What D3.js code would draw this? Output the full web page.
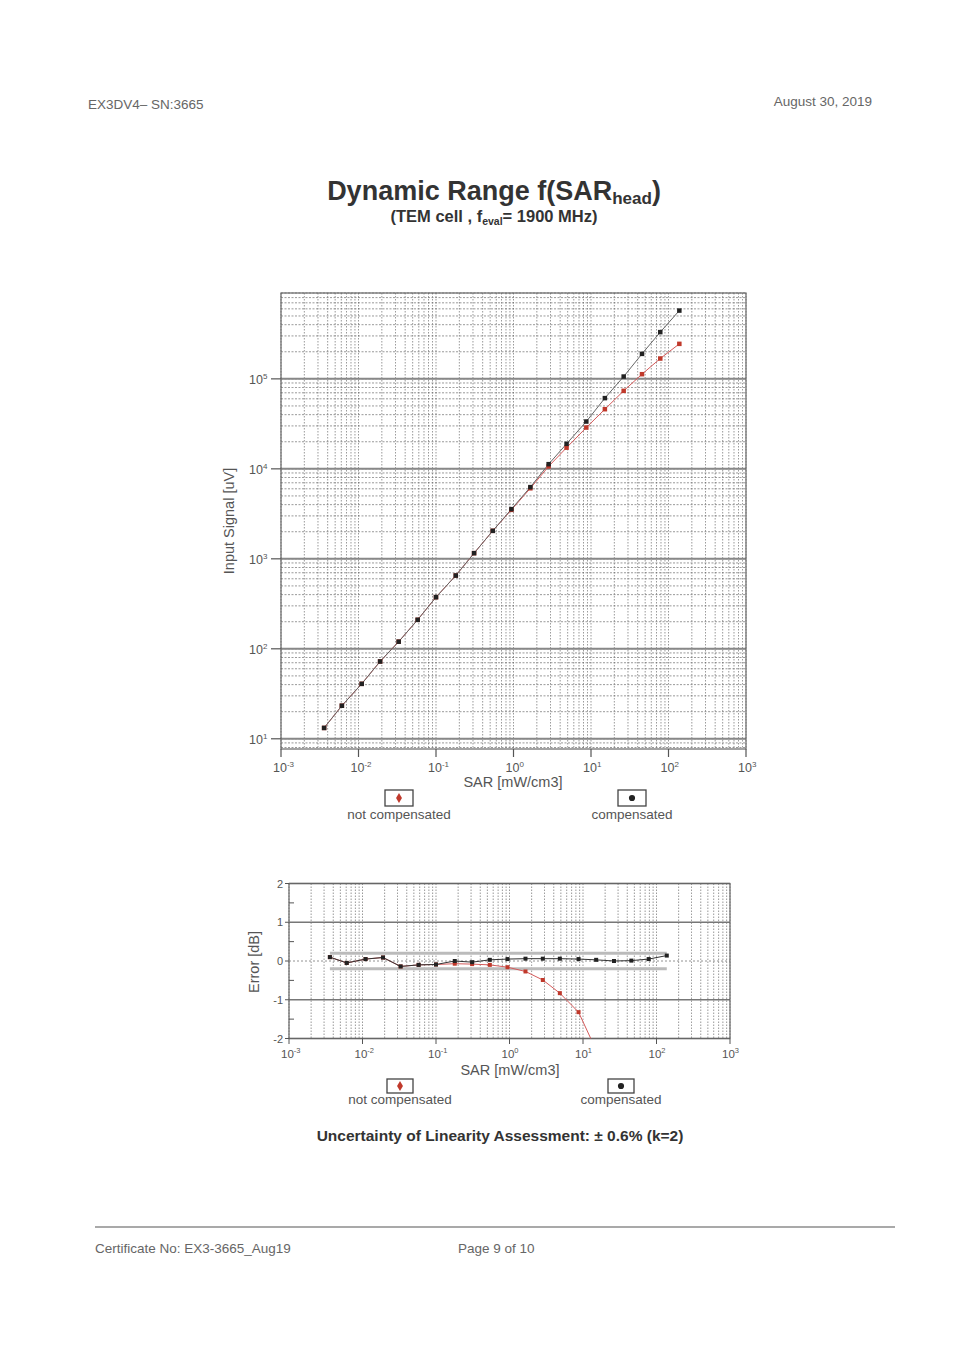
<!DOCTYPE html>
<html>
<head>
<meta charset="utf-8">
<script src="https://cdn.jsdelivr.net/npm/d3@7"></script>
<style>
  body { margin: 0; background: #fff; }
  svg { display: block; font-family: "Liberation Sans", Arial, sans-serif; }
</style>
</head>
<body>
<svg id="page" width="955" height="1354"></svg>
<script>
    "use strict";

    // values
    var sar = [0.0036, 0.0061, 0.011, 0.019, 0.033, 0.058, 0.10, 0.18, 0.31, 0.54,
        0.94, 1.65, 2.84, 4.84, 8.7, 15.1, 26.4, 45.5, 78.3, 138];
    var signalComp = [13.2, 23.3, 40.8, 72.3, 120, 210, 375, 652, 1156, 2047,
        3565, 6264, 11270, 18970, 33570, 61100, 106100, 189600, 330600, 574000];
    var signalNotComp = [13.2, 23.3, 40.8, 72.3, 120, 210, 375, 652, 1156, 2047,
        3500, 6080, 10650, 17200, 28770, 46000, 73600, 112700, 168300, 245000];
    var errComp = [0.10, -0.05, 0.05, 0.09, -0.14, -0.10, -0.09, 0.00, -0.03, 0.03,
        0.05, 0.06, 0.06, 0.06, 0.05, 0.03, 0.00, 0.01, 0.05, 0.14];
    var errNotComp = [0.10, -0.05, 0.05, 0.09, -0.14, -0.10, -0.09, -0.07, -0.08, -0.10,
        -0.16, -0.27, -0.49, -0.83, -1.32, -2.30];
    var xDecades = [1e-3, 1e-2, 1e-1, 1e0, 1e1, 1e2, 1e3];
    var xTickLabels = ["-3", "-2", "-1", "0", "1", "2", "3"];
    var yDecades = [1e1, 1e2, 1e3, 1e4, 1e5];
    var yTickLabels = ["1", "2", "3", "4", "5"];
    var errTicks = [-2, -1, 0, 1, 2];
    var errMinorTicks = [-1.5, -0.5, 0.5, 1.5];
    var errBand = [-0.2, 0.2];

    var svg = d3.select("#page");
    var textGray = "#555";

    // page header / footer
    svg.append("text").attr("x", 88).attr("y", 109).attr("font-size", 13.5).attr("fill", "#666")
        .text("EX3DV4– SN:3665");
    svg.append("text").attr("x", 872).attr("y", 106).attr("font-size", 13.5).attr("fill", "#666")
        .attr("text-anchor", "end").text("August 30, 2019");

    var title = svg.append("text").attr("x", 494).attr("y", 200).attr("text-anchor", "middle")
        .attr("font-size", 27).attr("font-weight", "bold").attr("fill", "#333");
    title.append("tspan").text("Dynamic Range f(SAR");
    title.append("tspan").attr("font-size", 17).attr("dy", 4).text("head");
    title.append("tspan").attr("dy", -4).text(")");

    var sub = svg.append("text").attr("x", 494).attr("y", 222).attr("text-anchor", "middle")
        .attr("font-size", 16.5).attr("font-weight", "bold").attr("fill", "#333");
    sub.append("tspan").text("(TEM cell , f");
    sub.append("tspan").attr("font-size", 10.5).attr("dy", 3).text("eval");
    sub.append("tspan").attr("dy", -3).text("= 1900 MHz)");

    svg.append("line").attr("x1", 95).attr("x2", 895).attr("y1", 1227).attr("y2", 1227)
        .attr("stroke", "#555").attr("stroke-width", 1.2);
    svg.append("text").attr("x", 95).attr("y", 1253).attr("font-size", 13.5).attr("fill", "#666")
        .text("Certificate No: EX3-3665_Aug19");
    svg.append("text").attr("x", 458).attr("y", 1253).attr("font-size", 13.5).attr("fill", "#666")
        .text("Page 9 of 10");

    var minorsOf = function (scale) {
        var d = scale.domain();
        return scale.ticks().filter(function (v) {
            return v >= d[0] && v <= d[1];
        });
    };

    var supLabel = function (sel, base, exp, size) {
        sel.append("tspan").text(base);
        sel.append("tspan").attr("font-size", size).attr("dy", -5).text(exp);
    };

    var drawLegend = function (g, lx, rx, yBox, yText, w, h) {
        var items = [
            {x: lx, label: "not compensated", color: "#c0392b", shape: d3.symbolDiamond},
            {x: rx, label: "compensated", color: "#222", shape: d3.symbolCircle}
        ];
        items.forEach(function (it) {
            g.append("rect").attr("x", it.x - w / 2).attr("y", yBox - h / 2).attr("width", w).attr("height", h)
                .attr("fill", "#fff").attr("stroke", "#444").attr("stroke-width", 1.3);
            g.append("path").attr("d", d3.symbol().type(it.shape).size(30)())
                .attr("transform", "translate(" + it.x + "," + yBox + ")").attr("fill", it.color);
            g.append("text").attr("x", it.x).attr("y", yText).attr("text-anchor", "middle")
                .attr("font-size", 13.5).attr("fill", textGray).text(it.label);
        });
    };

    // ---------- main chart: input signal vs SAR ----------
    var x = d3.scaleLog().domain([1e-3, 1e3]).range([281, 746]);
    var y = d3.scaleLog().domain([7.7, 9e5]).range([749, 293]);
    var main = svg.append("g");

    var xMinor = minorsOf(x);
    var yMinor = minorsOf(y);

    main.append("g").selectAll("line").data(xMinor).join("line")
        .attr("x1", function (d) { return x(d); }).attr("x2", function (d) { return x(d); })
        .attr("y1", y.range()[1]).attr("y2", y.range()[0])
        .attr("stroke", "#555").attr("stroke-width", 0.8).attr("stroke-dasharray", "1.5,1.5")
        .attr("opacity", 0.75);
    main.append("g").selectAll("line").data(yMinor).join("line")
        .attr("x1", x.range()[0]).attr("x2", x.range()[1])
        .attr("y1", function (d) { return y(d); }).attr("y2", function (d) { return y(d); })
        .attr("stroke", "#555").attr("stroke-width", 0.8).attr("stroke-dasharray", "2,1.5")
        .attr("opacity", 0.75);
    main.append("g").selectAll("line").data(yDecades).join("line")
        .attr("x1", x.range()[0]).attr("x2", x.range()[1])
        .attr("y1", function (d) { return y(d); }).attr("y2", function (d) { return y(d); })
        .attr("stroke", "#888").attr("stroke-width", 2);
    main.append("rect").attr("x", 281).attr("y", 293).attr("width", 465).attr("height", 456)
        .attr("fill", "none").attr("stroke", "#666").attr("stroke-width", 1.2);

    // y ticks
    var yAx = main.append("g");
    yDecades.forEach(function (d, i) {
        yAx.append("line").attr("x1", 271).attr("x2", 281).attr("y1", y(d)).attr("y2", y(d))
            .attr("stroke", "#555").attr("stroke-width", 1.2);
        supLabel(yAx.append("text").attr("x", 249).attr("y", y(d) + 5).attr("font-size", 12.5)
            .attr("fill", textGray), "10", yTickLabels[i], 8);
    });
    // x ticks
    var xAx = main.append("g");
    xDecades.forEach(function (d, i) {
        xAx.append("line").attr("x1", x(d)).attr("x2", x(d)).attr("y1", 749).attr("y2", 757)
            .attr("stroke", "#555").attr("stroke-width", 1.2);
        supLabel(xAx.append("text").attr("x", x(d) - 8).attr("y", 772).attr("font-size", 12.5)
            .attr("fill", textGray), "10", xTickLabels[i], 8);
    });
    main.append("text").attr("x", 513).attr("y", 787).attr("text-anchor", "middle")
        .attr("font-size", 14.5).attr("fill", textGray).text("SAR [mW/cm3]");
    main.append("text").attr("transform", "translate(234,521) rotate(-90)").attr("text-anchor", "middle")
        .attr("font-size", 14.5).attr("fill", textGray).text("Input Signal [uV]");

    var line = d3.line()
        .x(function (d) { return x(d[0]); })
        .y(function (d) { return y(d[1]); });
    var compPts = d3.zip(sar, signalComp);
    var notCompPts = d3.zip(sar, signalNotComp);

    main.append("path").attr("d", line(notCompPts)).attr("fill", "none")
        .attr("stroke", "#d45a5a").attr("stroke-width", 1);
    main.append("path").attr("d", line(compPts)).attr("fill", "none")
        .attr("stroke", "#666").attr("stroke-width", 1);
    main.append("g").selectAll("rect").data(notCompPts).join("rect")
        .attr("x", function (d) { return x(d[0]) - 2.25; }).attr("y", function (d) { return y(d[1]) - 2.25; })
        .attr("width", 4.5).attr("height", 4.5).attr("fill", "#c0392b");
    main.append("g").selectAll("rect").data(compPts).join("rect")
        .attr("x", function (d) { return x(d[0]) - 2.25; }).attr("y", function (d) { return y(d[1]) - 2.25; })
        .attr("width", 4.5).attr("height", 4.5).attr("fill", "#222");

    drawLegend(main, 399, 632, 798, 819, 28, 16);

    // ---------- error chart ----------
    var ex = d3.scaleLog().domain([1e-3, 1e3]).range([289, 730]);
    var ey = d3.scaleLinear().domain([-2, 2]).range([1038.5, 883.5]);
    var err = svg.append("g");

    err.append("g").selectAll("line").data(minorsOf(ex)).join("line")
        .attr("x1", function (d) { return ex(d); }).attr("x2", function (d) { return ex(d); })
        .attr("y1", ey(2)).attr("y2", ey(-2))
        .attr("stroke", "#555").attr("stroke-width", 0.8).attr("stroke-dasharray", "1.5,1.5")
        .attr("opacity", 0.75);
    err.append("g").selectAll("line").data(errTicks.filter(function (d) { return d !== 0; })).join("line")
        .attr("x1", ex.range()[0]).attr("x2", ex.range()[1])
        .attr("y1", function (d) { return ey(d); }).attr("y2", function (d) { return ey(d); })
        .attr("stroke", "#777").attr("stroke-width", 1.5);
    err.append("line").attr("x1", ex.range()[0]).attr("x2", ex.range()[1])
        .attr("y1", ey(0)).attr("y2", ey(0))
        .attr("stroke", "#777").attr("stroke-width", 0.8).attr("stroke-dasharray", "2,2");

    // uncertainty band
    var bandX = d3.extent(sar);
    err.append("g").selectAll("line").data(errBand).join("line")
        .attr("x1", ex(bandX[0])).attr("x2", ex(bandX[1]))
        .attr("y1", function (d) { return ey(d); }).attr("y2", function (d) { return ey(d); })
        .attr("stroke", "#bbb").attr("stroke-width", 3);

    err.append("rect").attr("x", 289).attr("y", 883.5).attr("width", 441).attr("height", 155)
        .attr("fill", "none").attr("stroke", "#666").attr("stroke-width", 1.2);

    errTicks.forEach(function (d) {
        err.append("line").attr("x1", 285).attr("x2", 289).attr("y1", ey(d)).attr("y2", ey(d))
            .attr("stroke", "#555");
        err.append("text").attr("x", 283).attr("y", ey(d) + 4).attr("text-anchor", "end")
            .attr("font-size", 11).attr("fill", textGray).text(d);
    });
    errMinorTicks.forEach(function (d) {
        err.append("line").attr("x1", 289).attr("x2", 294).attr("y1", ey(d)).attr("y2", ey(d))
            .attr("stroke", "#555");
    });
    xDecades.forEach(function (d, i) {
        err.append("line").attr("x1", ex(d)).attr("x2", ex(d)).attr("y1", 1038.5).attr("y2", 1044)
            .attr("stroke", "#555");
        supLabel(err.append("text").attr("x", ex(d) - 8).attr("y", 1058).attr("font-size", 11.5)
            .attr("fill", textGray), "10", xTickLabels[i], 7.5);
    });
    err.append("text").attr("x", 510).attr("y", 1075).attr("text-anchor", "middle")
        .attr("font-size", 14.5).attr("fill", textGray).text("SAR [mW/cm3]");
    err.append("text").attr("transform", "translate(259,962) rotate(-90)").attr("text-anchor", "middle")
        .attr("font-size", 14.5).attr("fill", textGray).text("Error [dB]");

    err.append("clipPath").attr("id", "errClip").append("rect")
        .attr("x", 289).attr("y", 883.5).attr("width", 441).attr("height", 155);

    var eline = d3.line()
        .x(function (d) { return ex(d[0]); })
        .y(function (d) { return ey(d[1]); });
    var errNcPts = d3.zip(sar, errNotComp);
    var errCPts = d3.zip(sar, errComp);
    var plotArea = err.append("g").attr("clip-path", "url(#errClip)");
    plotArea.append("path").attr("d", eline(errNcPts)).attr("fill", "none")
        .attr("stroke", "#d45a5a").attr("stroke-width", 1);
    plotArea.append("g").selectAll("rect").data(errNcPts).join("rect")
        .attr("x", function (d) { return ex(d[0]) - 2; }).attr("y", function (d) { return ey(d[1]) - 2; })
        .attr("width", 4).attr("height", 4).attr("fill", "#c0392b");
    plotArea.append("path").attr("d", eline(errCPts)).attr("fill", "none")
        .attr("stroke", "#333").attr("stroke-width", 1);
    plotArea.append("g").selectAll("rect").data(errCPts).join("rect")
        .attr("x", function (d) { return ex(d[0]) - 2; }).attr("y", function (d) { return ey(d[1]) - 2; })
        .attr("width", 4).attr("height", 4).attr("fill", "#222");

    drawLegend(err, 400, 621, 1086, 1104, 26, 14);

    svg.append("text").attr("x", 500).attr("y", 1141).attr("text-anchor", "middle")
        .attr("font-size", 15.5).attr("font-weight", "bold").attr("fill", "#333")
        .text("Uncertainty of Linearity Assessment: ± 0.6% (k=2)");
</script>
</body>
</html>
